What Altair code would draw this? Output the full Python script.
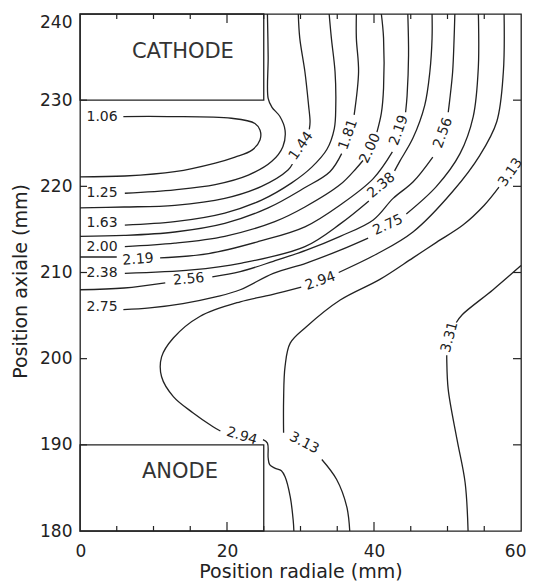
import altair as alt
import pandas as pd

# ---- contour lines (x = radial mm, y = axial mm); each level is a list of segments
C106 = [[(5.9, 228.1), (12.0, 228.1), (20.6, 227.9), (23.8, 227.3), (24.5, 226.5), (24.5, 225.4),
         (23.4, 224.2), (21.1, 223.4), (18.4, 222.7), (12.9, 221.7), (6.1, 221.2), (0.0, 221.1)]]
C125 = [[(6.1, 219.2), (12.9, 219.6), (18.4, 220.2), (22.9, 221.3), (26.1, 222.9), (27.6, 224.6),
         (27.9, 226.5), (27.2, 228.1), (26.1, 229.2), (25.6, 230.2), (25.6, 235.0), (25.5, 240.0)]]
C144 = [[(0.0, 217.5), (6.0, 217.6), (12.9, 217.8), (19.7, 218.6), (24.7, 220.0), (28.3, 221.9), (28.9, 222.6)],
        [(31.2, 226.6), (31.3, 227.5), (31.1, 229.4), (30.6, 233.3), (29.9, 237.2), (29.7, 240.0)]]
C163 = [[(6.1, 215.5), (12.9, 215.9), (19.7, 216.9), (24.7, 218.4), (28.8, 220.4), (31.5, 222.2),
         (33.6, 224.3), (34.6, 226.7), (34.8, 229.4), (34.7, 233.3), (34.2, 237.2), (33.9, 240.0)]]
C181 = [[(0.0, 214.2), (6.0, 214.3), (12.9, 214.7), (19.7, 215.7), (25.6, 217.5), (30.5, 219.8),
         (34.0, 221.7), (35.6, 223.8)],
        [(37.3, 228.3), (37.9, 233.3), (37.6, 237.2), (37.6, 240.0)]]
C200 = [[(6.1, 213.0), (12.9, 213.4), (19.7, 214.2), (26.5, 215.9), (30.6, 217.6), (35.4, 220.2),
         (37.6, 222.1), (38.5, 223.0)],
        [(40.4, 226.3), (41.0, 228.5), (41.3, 231.4), (41.3, 237.2), (41.0, 240.0)]]
C219 = [[(0.0, 211.8), (5.0, 211.8)],
        [(10.9, 211.7), (17.5, 212.2), (24.3, 213.6), (30.6, 215.3), (35.5, 217.9), (39.9, 220.9), (42.5, 224.0)],
        [(44.3, 228.6), (44.5, 230.5), (44.7, 235.2), (44.6, 240.0)]]
C238 = [[(6.1, 209.9), (15.2, 210.3), (22.0, 211.1), (30.6, 213.0), (35.5, 215.7), (39.3, 218.3)],
        [(42.8, 221.8), (43.5, 222.9), (45.3, 225.6), (46.9, 229.4), (47.6, 233.3), (47.9, 237.2), (47.9, 240.0)]]
C256 = [[(0.0, 208.0), (6.0, 208.2), (11.6, 208.8)],
        [(18.0, 209.5), (21.8, 210.1), (26.3, 211.3), (30.8, 212.6), (35.4, 214.2), (39.9, 216.1),
         (42.6, 218.6), (45.3, 220.5), (48.0, 223.4)],
        [(50.1, 228.6), (50.3, 230.0), (50.7, 233.3), (50.9, 237.2), (51.0, 240.0)]]
C275 = [[(5.9, 205.7), (9.5, 205.9), (14.0, 206.4), (18.6, 207.2), (21.8, 208.0), (26.3, 209.9),
         (30.8, 211.1), (35.4, 212.6), (39.2, 214.0)],
        [(44.4, 216.8), (48.5, 220.0), (51.7, 223.8), (53.5, 228.1), (54.2, 233.9), (54.2, 240.0)]]
C294 = [[(57.7, 240.0), (57.6, 233.3), (56.7, 227.5), (54.4, 223.6), (50.7, 219.4), (45.3, 214.7),
         (40.5, 212.2), (35.2, 210.0)],
        [(30.1, 208.3), (26.0, 207.4), (21.8, 206.6), (16.3, 204.9), (12.7, 202.4), (11.1, 200.2),
         (11.1, 197.9), (12.7, 195.6), (15.4, 193.7), (18.1, 192.1), (19.1, 191.6)],
        [(24.9, 190.6), (25.5, 190.2), (25.6, 188.5), (25.8, 187.7), (26.5, 187.3), (27.4, 187.0),
         (27.9, 186.3), (28.6, 184.0), (29.0, 181.3), (29.1, 180.0)]]
C313 = [[(57.0, 219.9), (55.0, 217.8), (52.1, 215.5), (48.5, 213.5), (45.3, 211.7), (40.8, 209.2),
         (35.4, 206.8), (30.8, 203.7), (28.6, 201.8), (27.9, 199.1), (27.7, 195.2), (27.7, 191.4)],
        [(32.9, 188.3), (34.9, 186.0), (36.3, 182.8), (36.7, 180.0)]]
C331 = [[(60.0, 210.8), (56.2, 208.0), (52.0, 205.1), (51.2, 204.2)],
        [(49.9, 200.4), (49.9, 199.9), (50.1, 196.4), (51.3, 190.6), (52.4, 185.6), (52.8, 180.0)]]

LEVELS = ["1.06", "1.25", "1.44", "1.63", "1.81", "2.00", "2.19", "2.38", "2.56", "2.75", "2.94", "3.13", "3.31"]
CONTOURS = [C106, C125, C144, C163, C181, C200, C219, C238, C256, C275, C294, C313, C331]

# ---- contour labels
LABEL_TEXT = ["1.06", "1.25", "1.63", "2.00", "2.38", "2.75", "2.19", "2.56", "1.44", "1.81",
              "2.00", "2.19", "2.38", "2.56", "2.75", "2.94", "3.13", "3.31", "2.94", "3.13"]
LABEL_X = [3.0, 3.0, 3.0, 3.0, 3.0, 3.0, 7.9, 14.8, 30.1, 36.5,
           39.5, 43.4, 41.0, 49.4, 41.9, 32.7, 58.6, 50.3, 22.0, 30.5]
LABEL_Y = [228.0, 219.2, 215.7, 213.0, 209.9, 206.0, 211.5, 209.2, 224.7, 226.0,
           224.4, 226.5, 220.1, 226.2, 215.5, 209.0, 221.6, 202.5, 191.0, 190.2]
LABEL_ANGLE = [0, 0, 0, 0, 0, 0, 356, 355, 305, 290,
               295, 290, 320, 290, 335, 341, 305, 285, 17, 27]

# ---- electrodes
ELECTRODE_NAME = ["CATHODE", "ANODE"]
ELECTRODE_X0 = [0, 0]
ELECTRODE_X1 = [25, 25]
ELECTRODE_Y0 = [230, 180]
ELECTRODE_Y1 = [240, 190]
ELECTRODE_TX = [14.0, 13.6]
ELECTRODE_TY = [235.6, 186.8]

# ---- axes
X_LABELS = [0, 20, 40, 60]
Y_LABELS = [180, 190, 200, 210, 220, 230, 240]
X_MINOR = [5, 10, 15, 25, 30, 35, 45, 50, 55]
X_MAJOR = [20, 40]
Y_TICKS = [190, 200, 210, 220, 230]

W, H = 441, 517
FONT = "DejaVu Sans"
INK = "#222222"

rows = []
for lev, segs in zip(LEVELS, CONTOURS):
    for s, seg in enumerate(segs):
        for i, (x, y) in enumerate(seg):
            rows.append({"seg": f"{lev}-{s}", "i": i, "x": x, "y": y})
lines_df = pd.DataFrame(rows)

labels_df = pd.DataFrame({"t": LABEL_TEXT, "x": LABEL_X, "y": LABEL_Y, "a": LABEL_ANGLE})
elec_df = pd.DataFrame({"name": ELECTRODE_NAME, "x0": ELECTRODE_X0, "x1": ELECTRODE_X1,
                        "y0": ELECTRODE_Y0, "y1": ELECTRODE_Y1,
                        "tx": ELECTRODE_TX, "ty": ELECTRODE_TY})

xs = alt.Scale(domain=[0, 60], nice=False, zero=False)
ys = alt.Scale(domain=[180, 240], nice=False, zero=False)

x_axis = alt.Axis(values=X_LABELS, grid=False, ticks=False, tickSize=0, domain=False,
                  labelFont=FONT, labelFontSize=17, labelColor=INK, labelPadding=12,
                  labelFlush=True, labelFlushOffset=5,
                  title="Position radiale (mm)", titleFont=FONT, titleFontSize=19,
                  titleFontWeight="normal", titleColor=INK, titlePadding=3)
y_axis = alt.Axis(values=Y_LABELS, grid=False, ticks=False, tickSize=0, domain=False,
                  labelFont=FONT, labelFontSize=17, labelColor=INK, labelPadding=8,
                  labelBaseline={"condition": {"test": "datum.value == 240", "value": "top"},
                                 "value": "middle"},
                  title="Position axiale (mm)", titleFont=FONT, titleFontSize=19,
                  titleFontWeight="normal", titleColor=INK, titlePadding=9, titleY=267)

lines = alt.Chart(lines_df).mark_line(color=INK, strokeWidth=1.3, interpolate="catmull-rom").encode(
    x=alt.X("x:Q", scale=xs, axis=x_axis),
    y=alt.Y("y:Q", scale=ys, axis=y_axis),
    detail="seg:N",
    order="i:Q",
)

elec_box = alt.Chart(elec_df).mark_rect(fillOpacity=0, stroke=INK, strokeWidth=1.3).encode(
    x=alt.X("x0:Q", scale=xs), x2="x1:Q",
    y=alt.Y("y0:Q", scale=ys), y2="y1:Q",
)
elec_text = alt.Chart(elec_df).mark_text(font=FONT, fontSize=21, color="#333333",
                                         baseline="middle", align="center").encode(
    x=alt.X("tx:Q", scale=xs), y=alt.Y("ty:Q", scale=ys), text="name:N")

labels = alt.Chart(labels_df).mark_text(font=FONT, fontSize=14, color=INK,
                                        baseline="middle", align="center").encode(
    x=alt.X("x:Q", scale=xs), y=alt.Y("y:Q", scale=ys), text="t:N",
    angle=alt.Angle("a:Q", scale=None))

minor_df = pd.DataFrame({"v": X_MINOR})
major_df = pd.DataFrame({"v": X_MAJOR})
yt_df = pd.DataFrame({"v": Y_TICKS})
tk = dict(color=INK, strokeWidth=1.2)
ticks = [
    alt.Chart(minor_df).mark_rule(**tk).encode(x=alt.X("v:Q", scale=xs), y=alt.value(H), y2=alt.value(H - 5)),
    alt.Chart(minor_df).mark_rule(**tk).encode(x=alt.X("v:Q", scale=xs), y=alt.value(0), y2=alt.value(5)),
    alt.Chart(major_df).mark_rule(**tk).encode(x=alt.X("v:Q", scale=xs), y=alt.value(H), y2=alt.value(H - 9)),
    alt.Chart(major_df).mark_rule(**tk).encode(x=alt.X("v:Q", scale=xs), y=alt.value(0), y2=alt.value(9)),
    alt.Chart(yt_df).mark_rule(**tk).encode(y=alt.Y("v:Q", scale=ys), x=alt.value(0), x2=alt.value(7)),
    alt.Chart(yt_df).mark_rule(**tk).encode(y=alt.Y("v:Q", scale=ys), x=alt.value(W), x2=alt.value(W - 8)),
]

chart = alt.layer(lines, elec_box, elec_text, labels, *ticks).properties(
    width=W, height=H,
    padding={"left": 72, "top": 6, "right": 6, "bottom": 53},
    autosize=alt.AutoSizeParams(type="none"),
).configure_view(stroke=INK, strokeWidth=1.3)

chart.save("out.html", embed_options={"renderer": "svg", "actions": False})
